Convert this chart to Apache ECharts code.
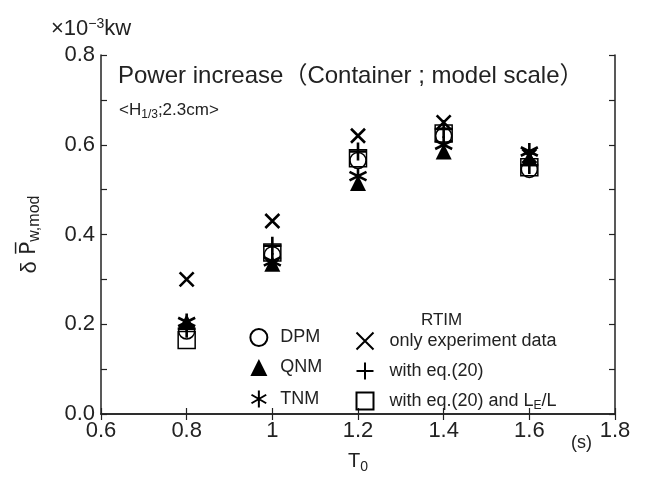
<!DOCTYPE html>
<html>
<head>
<meta charset="utf-8">
<script src="https://cdn.jsdelivr.net/npm/echarts@6/dist/echarts.min.js"></script>
<style>
    html, body { margin: 0; padding: 0; background: #fff; }
    #chart { width: 647px; height: 479px; }
</style>
</head>
<body>
<div id="chart"></div>
<script>
// wave period T0 (s)
const periods = [0.8, 1.0, 1.2, 1.4, 1.6];
// power increase, x10^-3 kW
const dpm = [0.185, 0.355, 0.565, 0.62, 0.545];
const qnm = [0.205, 0.335, 0.515, 0.585, 0.57];
const tnm = [0.205, 0.34, 0.53, 0.6, 0.585];
const onlyExp = [0.30, 0.43, 0.62, 0.65, 0.575];
const withEq = [0.19, 0.375, 0.585, 0.635, 0.555];
const withEqLe = [0.165, 0.36, 0.57, 0.625, 0.55];

const FONT = "Liberation Sans";
const INK = "#222";

const crossPath = "path://M0 0L10 10M10 0L0 10";
const plusPath = "path://M5 0L5 10M0 5L10 5";
const starPath = "path://M5 0L5 10M0.67 2.5L9.33 7.5M0.67 7.5L9.33 2.5";

function pairs(values) {
    return periods.map((p, i) => [p, values[i]]);
}

function makeSeries(name, values, symbol, size, style) {
    return {
        name: name,
        type: "scatter",
        data: pairs(values),
        symbol: symbol,
        symbolSize: size,
        itemStyle: style,
        emphasis: { disabled: true }
    };
}

function txt(size, extra) {
    return Object.assign({ fontSize: size, fontFamily: FONT, fontWeight: "normal", color: INK }, extra || {});
}

const openStyle = { color: "#fff", borderColor: "#000", borderWidth: 1.5, opacity: 1 };
const lineStyle = { color: "none", borderColor: "#000", borderWidth: 2.6, opacity: 1 };
const fillStyle = { color: "#000", borderWidth: 0, opacity: 1 };

const tickStyle = { color: INK, width: 1.2 };
const frameLine = { lineStyle: { color: INK, width: 1.5 } };

const chart = echarts.init(document.getElementById("chart"));

chart.setOption({
    animation: false,
    textStyle: { fontFamily: FONT, color: INK },
    grid: { left: 101, right: 32, top: 55, bottom: 58 },
    title: [
        {
            text: "{t|Power increase（Container ; model scale）}",
            left: 113,
            top: 59,
            textStyle: {
                rich: { t: txt(24, { fontFamily: FONT + ", Noto Sans CJK JP" }) }
            }
        },
        {
            text: "{n|<H}{s|1/3}{n|;2.3cm>}",
            left: 114,
            top: 95,
            textStyle: {
                rich: {
                    n: txt(17),
                    s: txt(12, { verticalAlign: "bottom", padding: [9, 0, 0, 0] })
                }
            }
        },
        {
            text: "{n|×10}{u|−3}{n|kw}",
            left: 46,
            top: 12,
            textStyle: {
                rich: {
                    n: txt(22),
                    u: txt(14, { verticalAlign: "top", padding: [0, 0, 10, 0] })
                }
            }
        },
        {
            text: "RTIM",
            left: 416,
            top: 307,
            textStyle: txt(17)
        },
        {
            text: "(s)",
            left: 566,
            top: 429,
            textStyle: txt(18)
        }
    ],
    legend: [
        {
            data: ["DPM", "QNM", "TNM"],
            orient: "vertical",
            left: 244,
            top: 323,
            itemWidth: 17,
            itemHeight: 17,
            itemGap: 11.5,
            selectedMode: false,
            formatter: name => "{n|" + name + "}",
            textStyle: {
                padding: [0, 0, 0, 8],
                rich: { n: txt(18, { lineHeight: 22 }) }
            }
        },
        {
            data: ["only experiment data", "with eq.(20)", "with eq.(20) and LE/L"],
            orient: "vertical",
            left: 349,
            top: 325,
            itemWidth: 17,
            itemHeight: 17,
            itemGap: 8,
            selectedMode: false,
            formatter: function (name) {
                if (name === "with eq.(20) and LE/L") {
                    return "{n|with eq.(20) and L}{s|E}{n|/L}";
                }
                return "{n|" + name + "}";
            },
            textStyle: {
                padding: [0, 0, 0, 11],
                rich: {
                    n: txt(18, { lineHeight: 22 }),
                    s: txt(12, { lineHeight: 22, verticalAlign: "bottom", padding: [9, 0, 0, 0] })
                }
            }
        }
    ],
    xAxis: [
        {
            type: "value",
            min: 0.6,
            max: 1.8,
            interval: 0.2,
            name: "{t|T}{s|0}",
            nameLocation: "middle",
            nameGap: 34,
            nameTextStyle: {
                rich: {
                    t: txt(20),
                    s: txt(14, { verticalAlign: "bottom", padding: [12, 0, 0, 0] })
                }
            },
            axisLine: frameLine,
            axisTick: { inside: true, length: 6, lineStyle: tickStyle },
            axisLabel: {
                fontSize: 22,
                fontFamily: FONT,
                color: INK,
                margin: 6,
                formatter: v => String(Number(v.toFixed(1)))
            },
            splitLine: { show: false }
        },
        {
            type: "value",
            position: "top",
            min: 0.6,
            max: 1.8,
            interval: 0.2,
            axisLine: frameLine,
            axisTick: { inside: true, length: 6, lineStyle: tickStyle },
            axisLabel: { show: false },
            splitLine: { show: false }
        }
    ],
    yAxis: [
        {
            type: "value",
            min: 0,
            max: 0.8,
            interval: 0.2,
            name: "{d|δ }{p|P̅}{s|w,mod}",
            nameLocation: "middle",
            nameRotate: 90,
            nameGap: 58,
            nameTextStyle: {
                rich: {
                    d: txt(22),
                    p: txt(22, { fontFamily: "DejaVu Sans" }),
                    s: txt(16, { verticalAlign: "bottom", padding: [11, 0, 0, 0] })
                }
            },
            axisLine: frameLine,
            axisTick: { inside: true, length: 6, lineStyle: tickStyle },
            minorTick: { show: true, splitNumber: 2, length: 6, lineStyle: tickStyle },
            axisLabel: {
                fontSize: 22,
                fontFamily: FONT,
                color: INK,
                margin: 6,
                formatter: v => v.toFixed(1)
            },
            splitLine: { show: false }
        },
        {
            type: "value",
            position: "right",
            min: 0,
            max: 0.8,
            interval: 0.2,
            axisLine: frameLine,
            axisTick: { inside: true, length: 6, lineStyle: tickStyle },
            minorTick: { show: true, splitNumber: 2, length: 6, lineStyle: tickStyle },
            axisLabel: { show: false },
            splitLine: { show: false }
        }
    ],
    series: [
        makeSeries("DPM", dpm, "circle", 16, openStyle),
        makeSeries("with eq.(20) and LE/L", withEqLe, "rect", 17, Object.assign({}, openStyle, { color: "none" })),
        makeSeries("QNM", qnm, "triangle", 16, fillStyle),
        makeSeries("TNM", tnm, starPath, 17, lineStyle),
        makeSeries("only experiment data", onlyExp, crossPath, 14, lineStyle),
        makeSeries("with eq.(20)", withEq, plusPath, 18, lineStyle)
    ]
});
</script>
</body>
</html>
